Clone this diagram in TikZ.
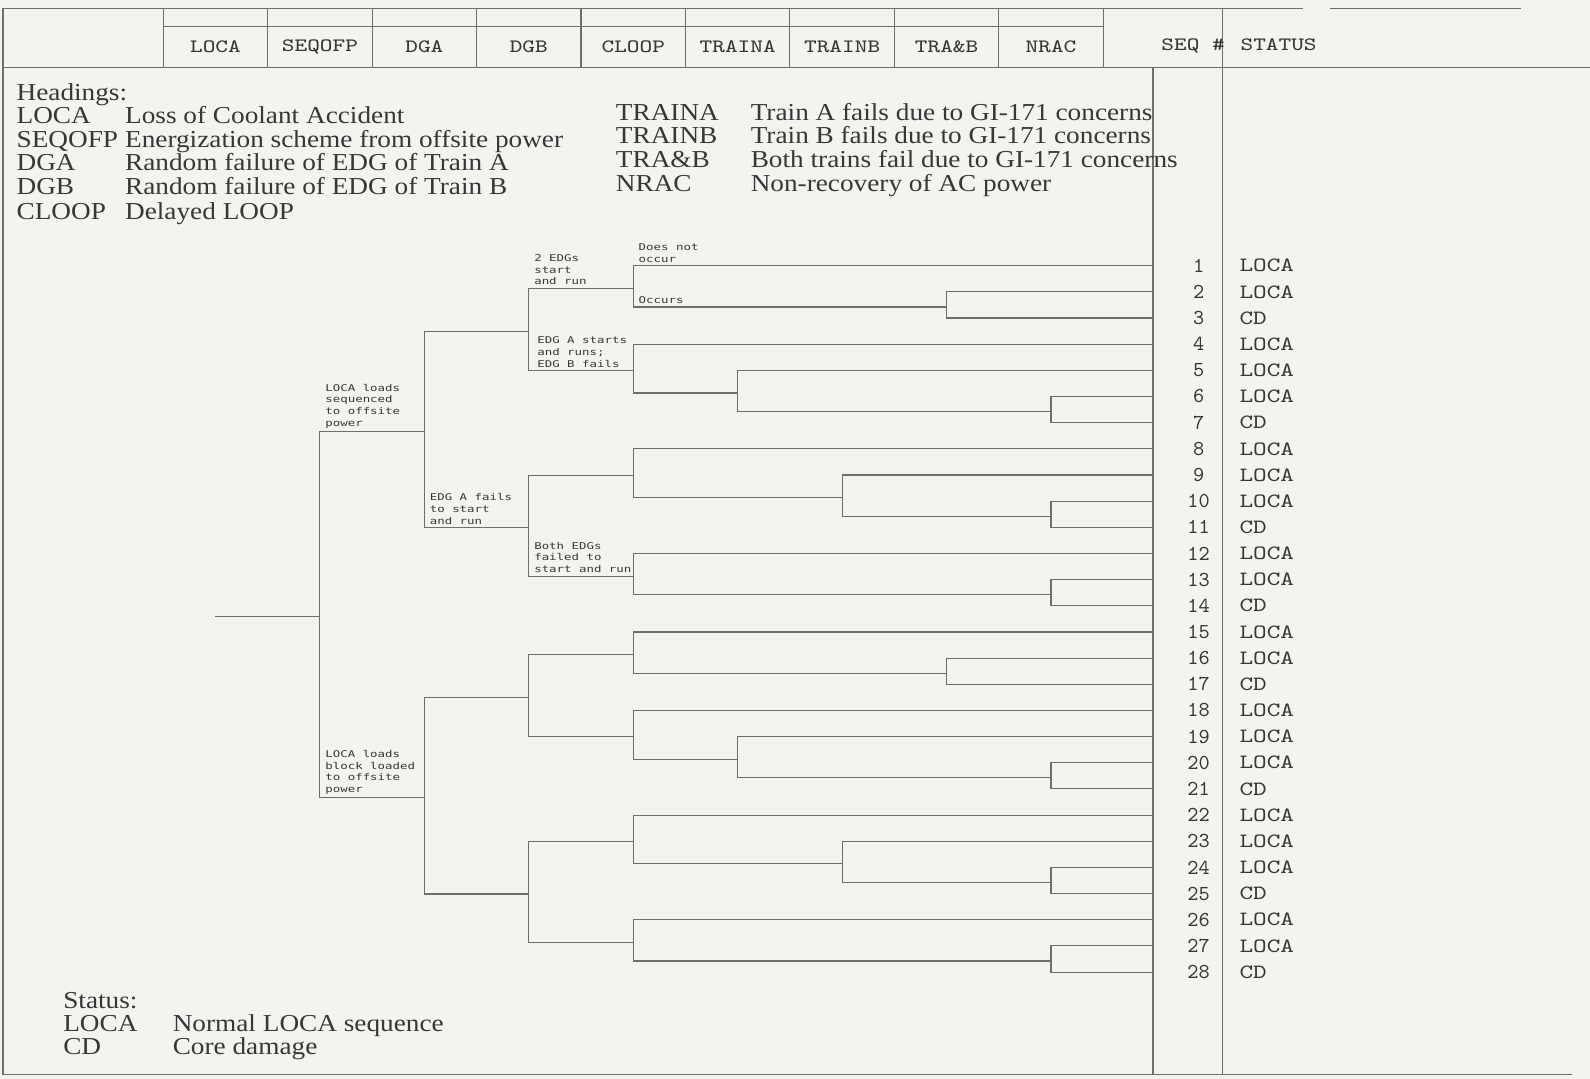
\documentclass[tikz,border=0pt]{standalone}
\usepackage{fontspec}
\setmainfont{Liberation Serif}[FakeStretch=1.12]
\newfontfamily\typefont{Latin Modern Mono}[FakeStretch=1.28]
\newfontfamily\numfont{Latin Modern Mono}
\newfontfamily\plotfont{DejaVu Sans Mono}[FakeStretch=1.33]
\usetikzlibrary{calc, positioning}
\definecolor{scan}{RGB}{243,243,240}
\definecolor{ink}{RGB}{55,55,55}
\definecolor{rulegray}{RGB}{110,110,110}
\newcommand{\evfork}[4]{%
  \coordinate (#1m) at ($(#3)!.5!(#4)+(0,2)$);
  \coordinate (#1) at (#1m -| #2);
  \draw[tree] (#3) -| (#1) |- (#4);
}

\begin{document}
\begin{tikzpicture}[x=0.5pt, y=-0.5pt,
  rule/.style={draw=rulegray, line width=0.55pt},
  tree/.style={draw=rulegray, line width=0.55pt},
  headtxt/.style={font=\typefont\fontsize{9.3}{9.3}\selectfont, text=ink, inner sep=0pt},
  seqtxt/.style={font=\numfont\fontsize{10.5}{10.5}\selectfont, text=ink, inner sep=0pt},
  stattxt/.style={font=\typefont\fontsize{10}{10}\selectfont, text=ink, inner sep=0pt, anchor=west},
  legtxt/.style={font=\fontsize{12}{12}\selectfont, text=ink, inner sep=0pt, anchor=base west},
  brlabel/.style={font=\plotfont\fontsize{4.6}{5.75}\selectfont, text=ink, inner sep=0pt, align=left, anchor=south west, xshift=2.5pt, yshift=1.5pt}]
\useasboundingbox (0,0) rectangle (1568,1064);
\fill[scan] (0,0) rectangle (1568,1064);

% frame and header
\draw[rule] (3,8) -- (1285,8) (1312,8) -- (1500,8);
\draw[rule] (3,8) -- (3,1060) -- (1550,1060);
\draw[rule] (3,67) -- (1568,67);
\draw[rule] (161,26) -- (1088,26);
\foreach \k in {0,...,9}
  \draw[rule] ({161+103*\k},8) -- ({161+103*\k},67);
\draw[rule] (1206,8) -- (1206,1060);
\draw[rule] (1137,67) -- (1137,1060);
\foreach \n/\t [count=\k from 0] in {LOCA/LOCA, SEQOFP/SEQOFP, DGA/DGA, DGB/DGB, CLOOP/CLOOP, TRAINA/TRAINA, TRAINB/TRAINB, TRAB/TRA\&B, NRAC/NRAC}
  \node[headtxt] (h\n) at ({212.5+103*\k},46) {\t};
\node[headtxt, anchor=west] (hSEQ) at (1145,45) {SEQ \#};
\node[headtxt, anchor=west] (hSTATUS) at (1223,44) {STATUS};

% legend
\node[legtxt] (hdg) at (16,99) {Headings:};
\foreach \c/\d/\y [count=\i] in {LOCA/Loss of Coolant Accident/122, SEQOFP/Energization scheme from offsite power/145, DGA/Random failure of EDG of Train A/168, DGB/Random failure of EDG of Train B/192, CLOOP/Delayed LOOP/216} {
  \node[legtxt] (lk\i) at (16,\y) {\c};
  \node[legtxt] (ld\i) at (123,\y) {\d};
}
\foreach \c/\d/\y [count=\i] in {TRAINA/Train A fails due to GI-171 concerns/119, TRAINB/Train B fails due to GI-171 concerns/142, TRA\&B/Both trains fail due to GI-171 concerns/165, NRAC/Non-recovery of AC power/189} {
  \node[legtxt] (rk\i) at (607,\y) {\c};
  \node[legtxt] (rd\i) at (740,\y) {\d};
}
\node[legtxt] (stk) at (62,995) {Status:};
\node[legtxt] (sk1) at (62,1017) {LOCA};
\node[legtxt] (sd1) at (170,1017) {Normal LOCA sequence};
\node[legtxt] (sk2) at (62,1040) {CD};
\node[legtxt] (sd2) at (170,1040) {Core damage};

% sequences
\foreach \i/\s in {1/LOCA, 2/LOCA, 3/CD, 4/LOCA, 5/LOCA, 6/LOCA, 7/CD, 8/LOCA, 9/LOCA, 10/LOCA, 11/CD, 12/LOCA, 13/LOCA, 14/CD, 15/LOCA, 16/LOCA, 17/CD, 18/LOCA, 19/LOCA, 20/LOCA, 21/CD, 22/LOCA, 23/LOCA, 24/LOCA, 25/CD, 26/LOCA, 27/LOCA, 28/CD} {
  \coordinate (l\i) at (1137,{262+(\i-1)*25.8});
  \node[seqtxt] (n\i) at (1182,{262+(\i-1)*25.8}) {\i};
  \node[stattxt] (st\i) at (1222,{262+(\i-1)*25.8}) {\s};
}

% event tree
\evfork{f6}{hNRAC}{l6}{l7}
\evfork{f5}{hTRAINA}{l5}{f6}
\evfork{f4}{hCLOOP}{l4}{f5}
\evfork{f2}{hTRAB}{l2}{l3}
\evfork{f1}{hCLOOP}{l1}{f2}
\evfork{fA}{hDGB}{f1}{f4}
\evfork{f10}{hNRAC}{l10}{l11}
\evfork{f9}{hTRAINB}{l9}{f10}
\evfork{f8}{hCLOOP}{l8}{f9}
\evfork{f13}{hNRAC}{l13}{l14}
\evfork{f12}{hCLOOP}{l12}{f13}
\evfork{fB}{hDGB}{f8}{f12}
\evfork{fS}{hDGA}{fA}{fB}
\evfork{f16}{hTRAB}{l16}{l17}
\evfork{f15}{hCLOOP}{l15}{f16}
\evfork{f20}{hNRAC}{l20}{l21}
\evfork{f19}{hTRAINA}{l19}{f20}
\evfork{f18}{hCLOOP}{l18}{f19}
\evfork{fC}{hDGB}{f15}{f18}
\evfork{f24}{hNRAC}{l24}{l25}
\evfork{f23}{hTRAINB}{l23}{f24}
\evfork{f22}{hCLOOP}{l22}{f23}
\evfork{f27}{hNRAC}{l27}{l28}
\evfork{f26}{hCLOOP}{l26}{f27}
\evfork{fD}{hDGB}{f22}{f26}
\evfork{fK}{hDGA}{fC}{fD}
\evfork{root}{hSEQOFP}{fS}{fK}
\coordinate (init) at (root -| hLOCA);
\draw[tree] (init) -- (root);

\node[brlabel] (lbseq) at (fS -| root) {LOCA loads\\sequenced\\to offsite\\power};
\node[brlabel] (lbblock) at (fK -| root) {LOCA loads\\block loaded\\to offsite\\power};
\node[brlabel] (lbafail) at (fB -| fS) {EDG A fails\\to start\\and run};
\node[brlabel] (lbtwo) at (f1 -| fA) {2 EDGs\\start\\and run};
\node[brlabel, xshift=1.5pt] (lbastart) at (f4 -| fA) {EDG A starts\\and runs;\\EDG B fails};
\node[brlabel] (lbboth) at (f12 -| fB) {Both EDGs\\failed to\\start and run};
\node[brlabel] (lbnot) at (l1 -| f1) {Does not\\occur};
\node[brlabel] (lbocc) at (f2 -| f1) {Occurs};
\end{tikzpicture}
\end{document}
